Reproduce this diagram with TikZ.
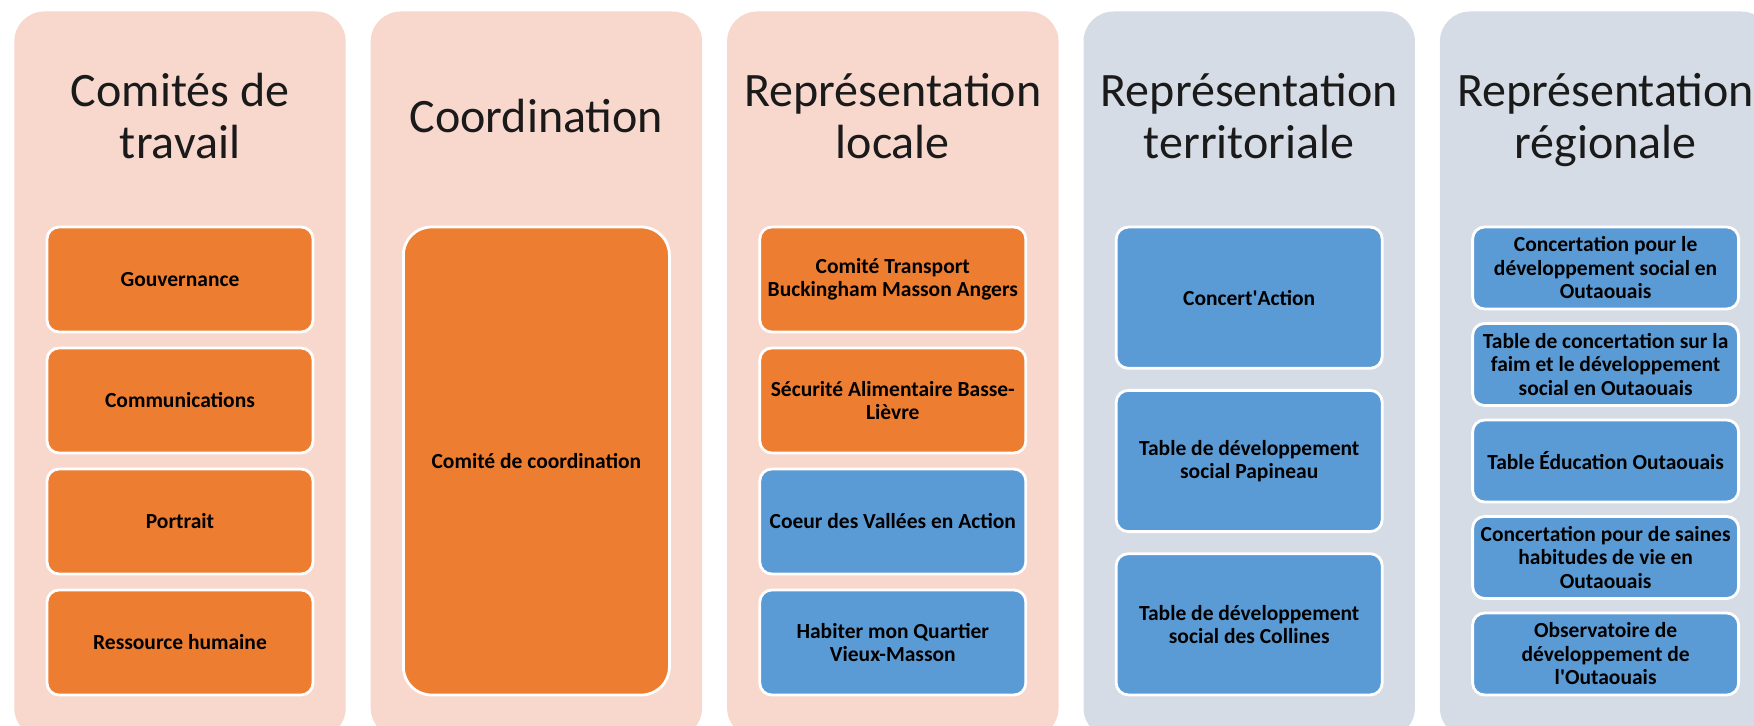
\documentclass[tikz,border=0pt]{standalone}
\usepackage{fontspec}
\setmainfont{Carlito}
\definecolor{peach}{HTML}{F8D7CD}
\definecolor{greyblue}{HTML}{D6DCE5}
\definecolor{orangebox}{HTML}{ED7D31}
\definecolor{bluebox}{HTML}{5B9BD5}
\definecolor{titletext}{HTML}{1A1A1A}
\begin{document}
\begin{tikzpicture}[x=0.5pt,y=-0.5pt,
  panel/.style={rectangle, rounded corners=15pt, draw=none, minimum width=165.7pt, minimum height=363.25pt, inner sep=0pt},
  title/.style={align=center, text=titletext, font=\fontsize{24}{26.3}\selectfont, inner sep=0pt, anchor=base},
  box/.style={rectangle, rounded corners=6pt, draw=white, line width=1.4pt, minimum width=133pt, align=center, inner sep=2pt, text=black, font=\bfseries\fontsize{10.75}{11.75}\selectfont},
  b4/.style={box, minimum height=52.5pt},
  b3/.style={box, minimum height=70.6pt},
  b5/.style={box, minimum height=41pt},
  org/.style={fill=orangebox},
  blu/.style={fill=bluebox}]
\useasboundingbox (0,0) rectangle (1754,726);
\clip (0,0) rectangle (1754,726);
% panels
\node[panel, fill=peach] (p1) at (180.0,374.75) {};
\node[panel, fill=peach] (p2) at (536.4,374.75) {};
\node[panel, fill=peach] (p3) at (892.8,374.75) {};
\node[panel, fill=greyblue] (p4) at (1249.2,374.75) {};
\node[panel, fill=greyblue] (p5) at (1605.6,374.75) {};
% titles (base anchor = baseline of last line)
\node[title] (t1) at (180.0,159) {Comités de\\travail};
\node[title] (t2) at (536.4,133) {Coordination};
\node[title] (t3) at (892.8,159) {Représentation\\locale};
\node[title] (t4) at (1249.2,159) {Représentation\\territoriale};
\node[title] (t5) at (1605.6,159) {Représentation\\régionale};
% column 1
\node[b4, org] (c1a) at (180.0,279.5) {Gouvernance};
\node[b4, org] (c1b) at (180.0,400.5) {Communications};
\node[b4, org] (c1c) at (180.0,521.5) {Portrait};
\node[b4, org] (c1d) at (180.0,642.5) {Ressource humaine};
% column 2
\node[box, org, rounded corners=14pt, minimum height=234pt] (c2a) at (536.4,461) {Comité de coordination};
% column 3
\node[b4, org] (c3a) at (892.8,279.5) {Comité Transport\\Buckingham Masson Angers};
\node[b4, org] (c3b) at (892.8,400.5) {Sécurité Alimentaire Basse-\\Lièvre};
\node[b4, blu] (c3c) at (892.8,521.5) {Coeur des Vallées en Action};
\node[b4, blu] (c3d) at (892.8,642.5) {Habiter mon Quartier\\Vieux-Masson};
% column 4
\node[b3, blu] (c4a) at (1249.2,297.7) {Concert\textquotesingle Action};
\node[b3, blu] (c4b) at (1249.2,461.0) {Table de développement\\social Papineau};
\node[b3, blu] (c4c) at (1249.2,624.3) {Table de développement\\social des Collines};
% column 5
\node[b5, blu] (c5a) at (1605.6,268.0) {Concertation pour le\\développement social en\\Outaouais};
\node[b5, blu] (c5b) at (1605.6,364.5) {Table de concertation sur la\\faim et le développement\\social en Outaouais};
\node[b5, blu] (c5c) at (1605.6,461.0) {Table Éducation Outaouais};
\node[b5, blu] (c5d) at (1605.6,557.5) {Concertation pour de saines\\habitudes de vie en\\Outaouais};
\node[b5, blu] (c5e) at (1605.6,654.0) {Observatoire de\\développement de\\l\textquotesingle Outaouais};
\end{tikzpicture}
\end{document}
